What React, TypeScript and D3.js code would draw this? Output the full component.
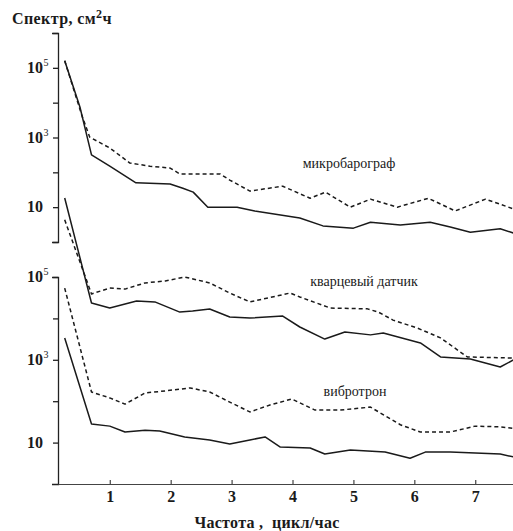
import React, { useEffect, useRef } from "react";
import { select, scaleLinear, scaleLog, line, axisLeft, axisBottom, curveLinear } from "d3";

// [частота (цикл/час), спектр (см²ч)]
const baroSolid: [number, number][] = [
  [0.26, 1.6e5], [0.51, 7500], [0.7, 316], [1.0, 150], [1.43, 50], [1.99, 46],
  [2.2, 35], [2.37, 27], [2.61, 10], [3.09, 10], [3.38, 7.8], [4.12, 4.9],
  [4.5, 2.9], [5.0, 2.5], [5.28, 3.7], [5.77, 3.1], [6.26, 3.7], [6.59, 2.7],
  [6.92, 1.9], [7.41, 2.4], [7.63, 1.8],
];
const baroDashed: [number, number][] = [
  [0.26, 1.6e5], [0.54, 4400], [0.67, 1030], [1.0, 500], [1.33, 185], [1.66, 150],
  [1.99, 133], [2.15, 90], [2.81, 90], [2.97, 60], [3.3, 29], [3.84, 40],
  [4.29, 18], [4.54, 27], [4.95, 10], [5.28, 17], [5.72, 10], [6.23, 18],
  [6.67, 7.8], [7.17, 17], [7.63, 8.9],
];
const quartzSolid: [number, number][] = [
  [0.26, 8.1e6], [0.7, 23500], [1.0, 17800], [1.44, 26300], [1.74, 25000],
  [2.15, 14200], [2.36, 15100], [2.64, 16900], [2.97, 10800], [3.3, 10200],
  [3.84, 11400], [4.12, 6200], [4.53, 3170], [4.86, 4700], [5.28, 4000],
  [5.49, 4450], [6.1, 2550], [6.43, 1170], [6.92, 1050], [7.41, 670], [7.63, 1000],
];
const quartzDashed: [number, number][] = [
  [0.26, 2.4e6], [0.7, 39000], [1.0, 54000], [1.25, 51000], [1.58, 72000],
  [1.91, 80000], [2.23, 100000], [2.64, 72000], [2.97, 41000], [3.3, 25000],
  [3.96, 41000], [4.12, 33000], [4.62, 17800], [5.23, 17000], [5.41, 14200],
  [5.65, 9100], [6.05, 5850], [6.43, 3380], [6.87, 1170], [7.63, 1100],
];
const vibroDashed: [number, number][] = [
  [0.26, 54000], [0.7, 167], [1.0, 120], [1.25, 85], [1.58, 158], [1.91, 177],
  [2.32, 209], [2.64, 167], [2.97, 95], [3.3, 55], [3.63, 81], [3.99, 113],
  [4.37, 61], [4.78, 61], [5.28, 72], [5.77, 27], [6.1, 18], [6.59, 18],
  [7.0, 25], [7.41, 24], [7.63, 22],
];
const vibroSolid: [number, number][] = [
  [0.26, 3380], [0.7, 28], [1.0, 25], [1.25, 18], [1.58, 20], [1.82, 19],
  [2.23, 13.7], [2.64, 11.6], [2.97, 9.3], [3.3, 11.6], [3.55, 13.7], [3.8, 7.8],
  [4.29, 7.4], [4.53, 5.3], [4.95, 6.6], [5.52, 5.9], [5.93, 4.2], [6.18, 5.9],
  [6.59, 5.9], [7.0, 5.6], [7.41, 5.3], [7.63, 4.5],
];

const xTicks = [1, 2, 3, 4, 5, 6, 7];
const topDecades = [1, 10, 100, 1e3, 1e4, 1e5, 1e6];
const botDecades = [10, 100, 1e3, 1e4, 1e5];
const topTickLabels: [number, string, string][] = [[1e5, "10", "5"], [1e3, "10", "3"], [10, "10", ""]];
const botTickLabels: [number, string, string][] = [[1e5, "10", "5"], [1e3, "10", "3"], [10, "10", ""]];
const curveNames = ["микробарограф", "кварцевый датчик", "вибротрон"];

const SERIF = "'Times New Roman', 'Liberation Serif', serif";
const INK = "#1a1a1a";

export default function App() {
  const svgRef = useRef<SVGSVGElement>(null);

  useEffect(() => {
    const W = 513;
    const H = 531;
    const svg = select(svgRef.current).attr("width", W).attr("height", H);
    svg.selectAll("*").remove();
    svg.append("rect").attr("width", W).attr("height", H).attr("fill", "#fff");

    const x = scaleLinear().domain([0.15, 7.62]).range([58, 513]);
    const yTop = scaleLog().domain([1, 1e6]).range([242, 33]);
    const yBot = scaleLog().domain([1, 1e5]).range([484, 277]);

    // axes
    const gTop = svg.append("g").attr("transform", "translate(58,0)")
      .call(axisLeft(yTop).tickValues(topDecades).tickFormat(() => "").tickSizeInner(5).tickSizeOuter(6));
    const gBot = svg.append("g").attr("transform", "translate(58,0)")
      .call(axisLeft(yBot).tickValues(botDecades).tickFormat(() => "").tickSizeInner(5).tickSizeOuter(6));
    const gX = svg.append("g").attr("transform", "translate(0,484)")
      .call(axisBottom(x).tickValues(xTicks).tickFormat((d) => String(d)).tickSizeInner(-4).tickSizeOuter(0).tickPadding(7));
    [gTop, gBot].forEach((g) => {
      g.selectAll("path, line").attr("stroke", "#222").attr("stroke-width", 1.3);
    });
    gX.selectAll("path, line").attr("stroke", "#444").attr("stroke-width", 1.2);
    gX.selectAll("text")
      .attr("font-family", SERIF).attr("font-size", 16).attr("font-weight", "bold").attr("fill", INK);

    const tickLabel = (scale: any, items: [number, string, string][]) => {
      items.forEach(([v, base, sup]) => {
        svg.append("text")
          .attr("x", 43).attr("y", scale(v) + 5)
          .attr("text-anchor", "end")
          .attr("font-family", SERIF).attr("font-size", 16).attr("font-weight", "bold").attr("fill", INK)
          .text(base);
        if (sup) {
          svg.append("text")
            .attr("x", 43.5).attr("y", scale(v) - 2)
            .attr("font-family", SERIF).attr("font-size", 10).attr("fill", INK)
            .text(sup);
        }
      });
    };
    tickLabel(yTop, topTickLabels);
    tickLabel(yBot, botTickLabels);

    // curves
    const mk = (yScale: any) => line<[number, number]>().x((d) => x(d[0])).y((d) => yScale(d[1])).curve(curveLinear);
    const series: [[number, number][], any, boolean][] = [
      [baroDashed, yTop, true], [baroSolid, yTop, false],
      [quartzDashed, yBot, true], [quartzSolid, yBot, false],
      [vibroDashed, yBot, true], [vibroSolid, yBot, false],
    ];
    series.forEach(([data, ys, dashed]) => {
      svg.append("path")
        .attr("d", mk(ys)(data))
        .attr("fill", "none")
        .attr("stroke", INK)
        .attr("stroke-width", 1.5)
        .attr("stroke-linejoin", "round")
        .attr("stroke-dasharray", dashed ? "4,3" : null);
    });

    // curve names
    const namePos: [number, number][] = [[349, 168], [364, 286], [355, 396]];
    curveNames.forEach((n, i) => {
      svg.append("text").attr("x", namePos[i][0]).attr("y", namePos[i][1])
        .attr("text-anchor", "middle").attr("font-family", SERIF).attr("font-size", 14)
        .attr("fill", INK).text(n);
    });

    // axis titles
    const yt = svg.append("text").attr("x", 12).attr("y", 24)
      .attr("font-family", SERIF).attr("font-size", 16).attr("font-weight", "bold")
      .attr("letter-spacing", 0.4).attr("fill", INK);
    yt.append("tspan").text("Спектр, см");
    yt.append("tspan").attr("dy", -6).attr("font-size", 12).text("2");
    yt.append("tspan").attr("dy", 6).text("ч");

    svg.append("text").attr("x", 267).attr("y", 528)
      .attr("text-anchor", "middle").attr("font-family", SERIF).attr("font-size", 16)
      .attr("font-weight", "bold").attr("fill", INK).attr("xml:space", "preserve")
      .attr("letter-spacing", 0.3)
      .text("Частота ,  цикл/час");
  }, []);

  return (
    <svg ref={svgRef} style={{ position: "absolute", left: 0, top: 0 }}></svg>
  );
}
